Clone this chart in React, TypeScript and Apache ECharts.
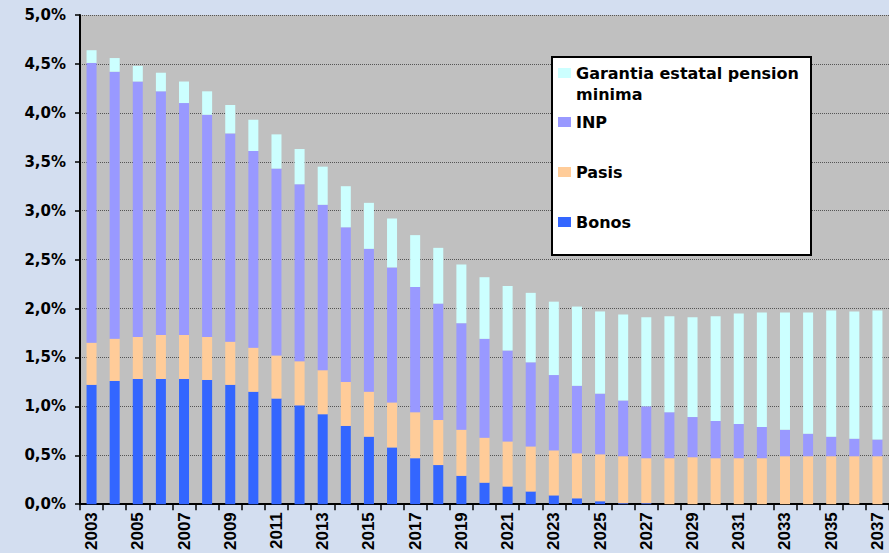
import React, { useEffect, useRef } from "react";
import * as echarts from "echarts";

const years: string[] = [
  "2003","2004","2005","2006","2007","2008","2009","2010","2011","2012",
  "2013","2014","2015","2016","2017","2018","2019","2020","2021","2022",
  "2023","2024","2025","2026","2027","2028","2029","2030","2031","2032",
  "2033","2034","2035","2036","2037",
];

const bonos: number[] = [
  1.22,1.26,1.28,1.28,1.28,1.27,1.22,1.15,1.08,1.01,
  0.92,0.80,0.69,0.58,0.47,0.40,0.29,0.22,0.18,0.13,
  0.09,0.06,0.03,0.01,0.01,0,0,0,0,0,
  0,0,0,0,0,
];

const pasis: number[] = [
  0.43,0.43,0.43,0.45,0.45,0.44,0.44,0.45,0.44,0.45,
  0.45,0.45,0.46,0.46,0.47,0.46,0.47,0.46,0.46,0.46,
  0.46,0.46,0.48,0.48,0.46,0.47,0.48,0.47,0.47,0.47,
  0.49,0.49,0.49,0.49,0.49,
];

const inp: number[] = [
  2.86,2.73,2.61,2.49,2.37,2.27,2.13,2.01,1.91,1.81,
  1.69,1.58,1.46,1.38,1.28,1.19,1.09,1.01,0.93,0.86,
  0.77,0.69,0.62,0.57,0.53,0.47,0.41,0.38,0.35,0.32,
  0.27,0.23,0.20,0.18,0.17,
];

const garantia: number[] = [
  0.13,0.14,0.16,0.19,0.22,0.24,0.29,0.32,0.35,0.36,
  0.39,0.42,0.47,0.50,0.53,0.57,0.60,0.63,0.66,0.71,
  0.75,0.81,0.84,0.88,0.91,0.98,1.02,1.07,1.13,1.17,
  1.20,1.24,1.29,1.30,1.32,
];

const seriesNames: string[] = ["Bonos", "Pasis", "INP", "Garantia estatal pension minima"];
const seriesColors: string[] = ["#3366FF", "#FFCC99", "#9999FF", "#CCFFFF"];

export default function App() {
  const ref = useRef<HTMLDivElement>(null);

  useEffect(() => {
    if (!ref.current) return;
    const chart = echarts.init(ref.current, undefined, { renderer: "svg" });
    const values = [bonos, pasis, inp, garantia];
    const legendText = {
      fontFamily: "DejaVu Sans",
      fontWeight: "bold" as const,
      fontSize: 16,
      color: "#000",
      lineHeight: 21,
    };
    chart.setOption({
      animation: false,
      backgroundColor: "#D3DEF0",
      grid: {
        left: 80,
        top: 15,
        width: 817,
        height: 490,
        show: true,
        backgroundColor: "#C0C0C0",
        borderWidth: 0,
        containLabel: false,
      },
      graphic: [
        {
          type: "rect",
          z: 10,
          shape: { x: 552, y: 57, width: 259, height: 198 },
          style: { fill: "#FFFFFF", stroke: "#000000", lineWidth: 2 },
        },
      ],
      legend: [
        {
          z: 11,
          left: 558,
          top: 41.5,
          padding: 0,
          orient: "vertical",
          selectedMode: false,
          itemWidth: 13,
          itemHeight: 10,
          icon: "rect",
          data: [seriesNames[3]],
          formatter: () => "\nGarantia estatal pension\nminima",
          textStyle: legendText,
        },
        {
          z: 11,
          left: 558,
          top: 111.5,
          padding: 0,
          orient: "vertical",
          selectedMode: false,
          itemWidth: 13,
          itemHeight: 10,
          itemGap: 29,
          icon: "rect",
          data: [seriesNames[2], seriesNames[1], seriesNames[0]],
          textStyle: legendText,
        },
      ],
      xAxis: {
        type: "category",
        data: years,
        boundaryGap: true,
        axisLine: { show: true, lineStyle: { color: "#000", width: 2 } },
        axisTick: { show: true, interval: 0, length: 6, lineStyle: { color: "#000", width: 1.5 } },
        axisLabel: {
          interval: 1,
          rotate: 90,
          margin: 8,
          fontFamily: "Liberation Sans",
          fontWeight: "bold",
          fontSize: 17,
          color: "#000",
        },
        splitLine: { show: false },
      },
      yAxis: {
        type: "value",
        min: 0,
        max: 5,
        interval: 0.5,
        axisLine: { show: true, lineStyle: { color: "#000", width: 2 } },
        axisTick: { show: true, length: 5, lineStyle: { color: "#000", width: 1.5 } },
        axisLabel: {
          margin: 14,
          fontFamily: "DejaVu Sans",
          fontWeight: "bold",
          fontSize: 15,
          color: "#000",
          formatter: (v: number) => v.toFixed(1).replace(".", ",") + "%",
        },
        splitLine: { show: true, lineStyle: { color: "#555", type: "dotted", width: 1 } },
      },
      series: seriesNames.map((name, i) => ({
        name,
        type: "bar",
        stack: "total",
        barWidth: 10,
        itemStyle: { color: seriesColors[i] },
        data: values[i],
      })),
    });
    return () => chart.dispose();
  }, []);

  return (
    <div
      ref={ref}
      style={{ position: "fixed", left: 0, top: 0, width: 889, height: 553 }}
    />
  );
}
